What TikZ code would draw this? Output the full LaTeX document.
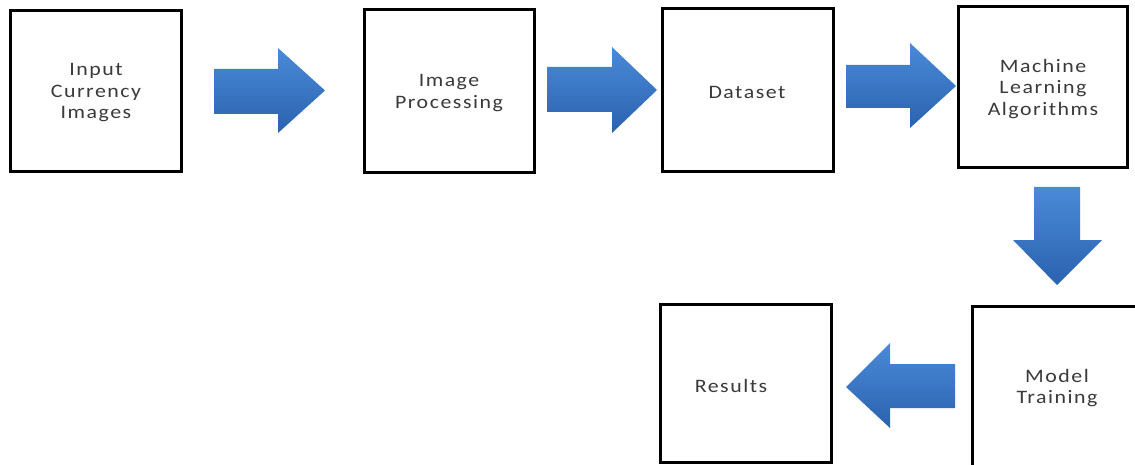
\documentclass[tikz,border=0pt]{standalone}
\usepackage{fontspec}
\setmainfont{Carlito}[FakeStretch=1.15,LetterSpace=8]
\definecolor{txt}{HTML}{3A3A3A}
\definecolor{blueA}{HTML}{4A8AD8}
\definecolor{blueB}{HTML}{2A62AE}
\begin{document}
\begin{tikzpicture}[x=1pt,y=-1pt,
  stepbox/.style={draw=black,line width=3pt,fill=white},
  lbl/.style={text=txt,font=\fontsize{19}{21.5}\selectfont,align=center,inner sep=0pt},
  blockarrow/.style={draw=none,top color=blueA,bottom color=blueB}]
\path[use as bounding box] (0,0) rectangle (1135,465);
\begin{scope}
\clip (0,0) rectangle (1135,465);
% boxes
\draw[stepbox] (10,11) rectangle (181,172) coordinate (b1);
\draw[stepbox] (364,10) rectangle (534,173);
\draw[stepbox] (662,9) rectangle (833,172);
\draw[stepbox] (958,7) rectangle (1127,168);
\draw[stepbox] (972,306) rectangle (1145,475);
\draw[stepbox] (660,304) rectangle (831,462);
% labels
\node[lbl] (t1) at (96,93) {Input\\Currency\\Images};
\node[lbl] (t2) at (449,93) {Image\\Processing};
\node[lbl] (t3) at (747,92) {Dataset};
\node[lbl] (t4) at (1043,89) {Machine\\Learning\\Algorithms};
\node[lbl] (t5) at (1057,388) {Model\\Training};
\node[lbl] (t6) at (731,386) {Results};
% block arrows
\path[blockarrow] (214,69) -- (278,69) -- (278,48) -- (325,90.5) -- (278,133) -- (278,114) -- (214,114) -- cycle;
\path[blockarrow] (547,67) -- (612,67) -- (612,47) -- (657,90) -- (612,133) -- (612,112) -- (547,112) -- cycle;
\path[blockarrow] (846,65) -- (910,65) -- (910,43) -- (956,86) -- (910,128) -- (910,108) -- (846,108) -- cycle;
\path[blockarrow] (1034,187) -- (1080,187) -- (1080,240) -- (1102,240) -- (1057,285) -- (1013,240) -- (1034,240) -- cycle;
\path[blockarrow] (955,364) -- (890,364) -- (890,343) -- (846,387) -- (890,428) -- (890,408) -- (955,408) -- cycle;
\end{scope}
\end{tikzpicture}
\end{document}
